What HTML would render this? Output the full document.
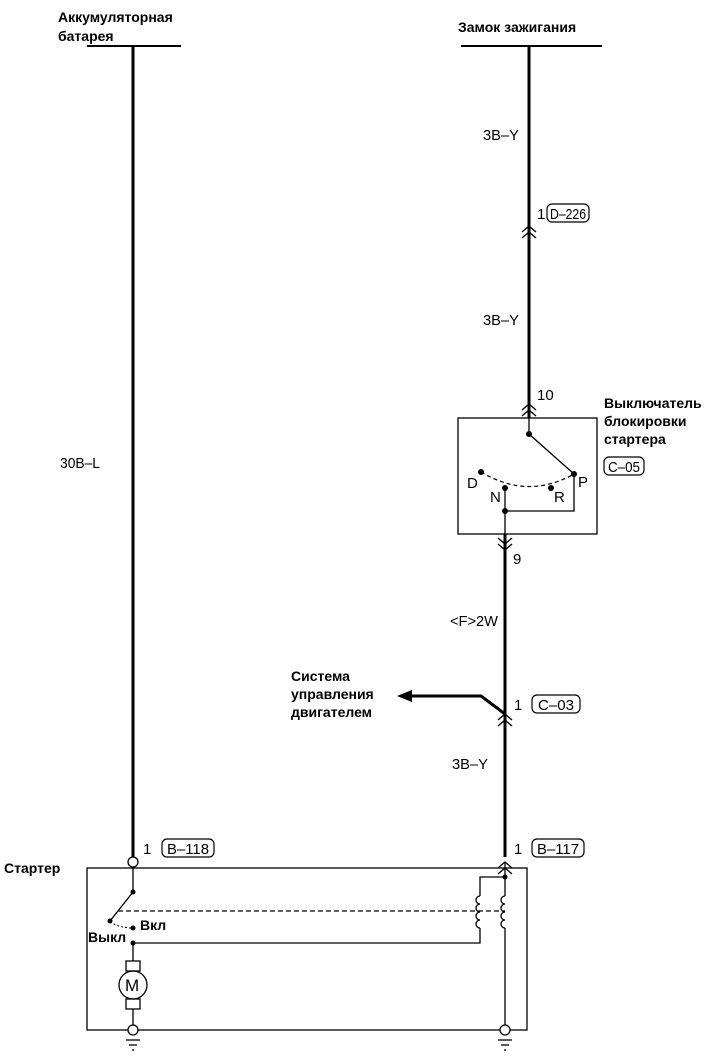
<!DOCTYPE html>
<html><head><meta charset="utf-8"><style>
html,body{margin:0;padding:0;background:#fff}
svg{display:block}
text{font-family:"Liberation Sans",sans-serif;fill:#000}
.b{font-weight:bold;font-size:14px}
.n{font-size:15px}
</style></head><body>
<svg width="725" height="1059" viewBox="0 0 725 1059" xmlns="http://www.w3.org/2000/svg">
<g stroke="#000" fill="none">
<line x1="87" y1="46" x2="181" y2="46" stroke-width="2"/>
<line x1="461" y1="46" x2="602" y2="46" stroke-width="2"/>
<line x1="133" y1="46" x2="133" y2="857" stroke-width="3"/>
<line x1="529" y1="46" x2="529" y2="418" stroke-width="3"/>
<polyline points="522,232 529,226 536,232" stroke-width="1.3"/>
<polyline points="522,238 529,232 536,238" stroke-width="1.3"/>
<polyline points="522,410 529,404 536,410" stroke-width="1.3"/>
<polyline points="522,416 529,410 536,416" stroke-width="1.3"/>
<rect x="458" y="418" width="139" height="116" stroke-width="1.3"/>
<line x1="529" y1="418" x2="529" y2="434" stroke-width="1.3"/>
<line x1="529" y1="434" x2="574" y2="474" stroke-width="1.3"/>
<path d="M481,472 Q528,500 574,474" stroke-width="1.2" stroke-dasharray="4,3"/>
<polyline points="505,488 505,511 574,511 574,474" stroke-width="1.3"/>
<line x1="505" y1="511" x2="505" y2="534" stroke-width="1.3"/>
<line x1="505" y1="534" x2="505" y2="857" stroke-width="3"/>
<polyline points="498,538 505,544 512,538" stroke-width="1.3"/>
<polyline points="498,544 505,550 512,544" stroke-width="1.3"/>
<polyline points="505,714 481,696 410,696" stroke-width="3"/>
<polyline points="498,720 505,714 512,720" stroke-width="1.3"/>
<polyline points="498,726 505,720 512,726" stroke-width="1.3"/>
<rect x="87" y="868" width="440" height="162" stroke-width="1.3"/>
<circle cx="133" cy="862" r="5" fill="#fff" stroke-width="1.3"/>
<line x1="133" y1="867" x2="133" y2="892" stroke-width="1.3"/>
<line x1="133" y1="892" x2="110" y2="921" stroke-width="1.3"/>
<line x1="118" y1="911" x2="505" y2="911" stroke-width="1.2" stroke-dasharray="5,3"/>
<path d="M110,922 Q120,928 133,928" stroke-width="1" stroke-dasharray="2,2"/>
<polyline points="133,943 480,943 480,928" stroke-width="1.3"/>
<polyline points="480,896 480,877 505,877" stroke-width="1.3"/>
<path d="M480,896 a4,4 0 1,0 0,8 a4,4 0 1,0 0,8 a4,4 0 1,0 0,8 a4,4 0 1,0 0,8" stroke-width="1.3"/>
<line x1="505" y1="862" x2="505" y2="896" stroke-width="1.3"/>
<line x1="505" y1="928" x2="505" y2="1025" stroke-width="1.3"/>
<path d="M505,896 a4,4 0 1,0 0,8 a4,4 0 1,0 0,8 a4,4 0 1,0 0,8 a4,4 0 1,0 0,8" stroke-width="1.3"/>
<polyline points="498,868 505,862 512,868" stroke-width="1.3"/>
<polyline points="498,874 505,868 512,874" stroke-width="1.3"/>
<line x1="133" y1="943" x2="133" y2="961" stroke-width="1.3"/>
<rect x="126" y="961" width="14" height="10" stroke-width="1.3"/>
<circle cx="133" cy="985" r="14" stroke-width="1.3"/>
<rect x="126" y="999" width="14" height="10" stroke-width="1.3"/>
<line x1="133" y1="1009" x2="133" y2="1025" stroke-width="1.3"/>
<circle cx="133" cy="1030" r="5" fill="#fff" stroke-width="1.3"/>
<circle cx="505" cy="1030" r="5" fill="#fff" stroke-width="1.3"/>
<line x1="126" y1="1040" x2="140" y2="1040" stroke-width="1.3"/>
<line x1="129" y1="1045" x2="137" y2="1045" stroke-width="1.3"/>
<line x1="132" y1="1050" x2="134" y2="1050" stroke-width="1.3"/>
<line x1="498" y1="1040" x2="512" y2="1040" stroke-width="1.3"/>
<line x1="501" y1="1045" x2="509" y2="1045" stroke-width="1.3"/>
<line x1="504" y1="1050" x2="506" y2="1050" stroke-width="1.3"/>
<rect x="547" y="204" width="42" height="18" rx="5" stroke-width="1.2"/>
<rect x="604" y="457" width="40" height="18" rx="5" stroke-width="1.2"/>
<rect x="532" y="695" width="48" height="18" rx="5" stroke-width="1.2"/>
<rect x="162" y="839" width="52" height="18" rx="5" stroke-width="1.2"/>
<rect x="532" y="839" width="52" height="18" rx="5" stroke-width="1.2"/>
</g>
<g fill="#000">
<polygon points="397,696 412,690 412,702"/>
<circle cx="529" cy="434" r="3"/><circle cx="574" cy="474" r="3"/>
<circle cx="481" cy="472" r="3"/><circle cx="505" cy="488" r="3"/>
<circle cx="551" cy="488" r="3"/><circle cx="505" cy="511" r="3"/>
<circle cx="133" cy="892" r="2.5"/><circle cx="110" cy="921" r="2.5"/>
<circle cx="133" cy="928" r="2.5"/><circle cx="133" cy="943" r="2.5"/>
<circle cx="505" cy="877" r="2.5"/>
</g>
<text class="b" x="58" y="22">Аккумуляторная</text>
<text class="b" x="58" y="41">батарея</text>
<text class="b" x="458" y="32">Замок зажигания</text>
<text class="n" x="483" y="140" textLength="36" lengthAdjust="spacingAndGlyphs">3B–Y</text>
<text class="n" x="537" y="219">1</text><text class="n" x="550" y="219" textLength="36" lengthAdjust="spacingAndGlyphs">D–226</text>
<text class="n" x="483" y="325" textLength="36" lengthAdjust="spacingAndGlyphs">3B–Y</text>
<text class="n" x="537" y="400">10</text>
<text class="b" x="604" y="408">Выключатель</text>
<text class="b" x="604" y="426">блокировки</text>
<text class="b" x="604" y="444">стартера</text>
<text class="n" x="608" y="472" textLength="32" lengthAdjust="spacingAndGlyphs">C–05</text>
<text class="n" x="467" y="488" font-size="13">D</text>
<text class="n" x="490" y="502" font-size="13">N</text>
<text class="n" x="554" y="502" font-size="13">R</text>
<text class="n" x="578" y="487" font-size="13">P</text>
<text class="n" x="513" y="564">9</text>
<text class="n" x="60" y="468" textLength="40" lengthAdjust="spacingAndGlyphs">30B–L</text>
<text class="n" x="450" y="626" textLength="48" lengthAdjust="spacingAndGlyphs">&lt;F&gt;2W</text>
<text class="b" x="291" y="681">Система</text>
<text class="b" x="291" y="699">управления</text>
<text class="b" x="291" y="717">двигателем</text>
<text class="n" x="514" y="710">1</text><text class="n" x="538" y="710" textLength="36" lengthAdjust="spacingAndGlyphs">C–03</text>
<text class="n" x="452" y="769" textLength="36" lengthAdjust="spacingAndGlyphs">3B–Y</text>
<text class="n" x="143" y="854">1</text><text class="n" x="167" y="854" textLength="42" lengthAdjust="spacingAndGlyphs">B–118</text>
<text class="n" x="514" y="854">1</text><text class="n" x="537" y="854" textLength="42" lengthAdjust="spacingAndGlyphs">B–117</text>
<text class="b" x="4" y="873">Стартер</text>
<text class="b" x="140" y="930">Вкл</text>
<text class="b" x="88" y="942">Выкл</text>
<text x="125" y="991" font-size="17">M</text>
</svg>
</body></html>
